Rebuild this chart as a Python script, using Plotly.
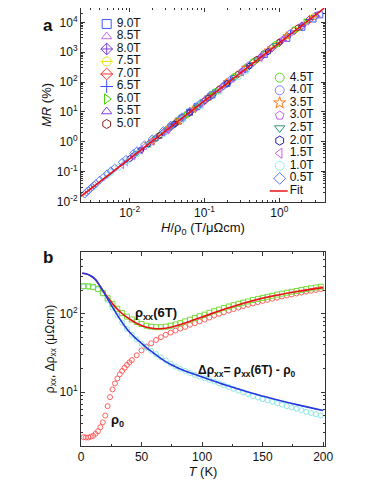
import plotly.graph_objects as go

# ---------------- panel a : MR vs H/rho0 (Kohler plot) ----------------
x90 = [0.0447, 0.0501, 0.0631, 0.0794, 0.126, 0.200, 0.355, 0.631, 1.26, 2.00, 2.82, 3.47]
y90 = [4.91, 6.14, 9.59, 15.0, 36.6, 89.5, 274, 836, 2900, 6800, 12900, 17800]
x85 = [0.0447, 0.0562, 0.0708, 0.0891, 0.141, 0.224, 0.355, 0.631, 1.12, 2.24, 3.16]
y85 = [4.91, 7.67, 12.0, 18.7, 45.8, 112, 274, 836, 2553, 9300, 17000]
x80 = [0.0398, 0.0501, 0.0631, 0.0794, 0.126, 0.200, 0.316, 0.562, 1.00, 2.00, 3.02]
y80 = [3.93, 6.14, 9.59, 15.0, 36.6, 89.5, 219, 680, 2080, 7600, 16200]
x75 = [0.0398, 0.0447, 0.0562, 0.0708, 0.112, 0.178, 0.282, 0.501, 0.891, 1.78, 2.82]
y75 = [3.93, 4.91, 7.67, 12.0, 29.3, 71.6, 180, 556, 1700, 6420, 15200]
x70 = [0.0355, 0.0398, 0.0501, 0.0631, 0.100, 0.158, 0.251, 0.447, 0.794, 1.58, 2.51]
y70 = [3.14, 3.93, 6.14, 9.59, 23.4, 57.3, 144, 449, 1370, 5190, 12300]
x65 = [0.0355, 0.0398, 0.0501, 0.0631, 0.0891, 0.141, 0.224, 0.398, 0.708, 1.41, 2.51]
y65 = [3.14, 3.93, 6.14, 9.59, 18.7, 45.8, 116, 359, 1108, 4190, 12400]
x60 = [0.0316, 0.0355, 0.0447, 0.0562, 0.0794, 0.126, 0.200, 0.355, 0.631, 1.26, 2.24]
y60 = [2.51, 3.14, 4.91, 7.67, 15.0, 36.6, 93.1, 290, 895, 3380, 10100]
x55 = [0.0282, 0.0316, 0.0398, 0.0501, 0.0708, 0.112, 0.178, 0.316, 0.562, 1.12, 2.00]
y55 = [2.01, 2.51, 3.93, 6.14, 12.0, 29.3, 74.5, 232, 715, 2730, 8190]
x50 = [0.0251, 0.0282, 0.0355, 0.0447, 0.0631, 0.100, 0.158, 0.282, 0.501, 1.00, 1.78]
y50 = [1.61, 2.01, 3.14, 4.91, 9.59, 23.4, 59.0, 186, 578, 2205, 6610]
x45 = [0.0224, 0.0251, 0.0316, 0.0398, 0.0562, 0.0891, 0.141, 0.251, 0.447, 0.891, 1.58]
y45 = [1.29, 1.61, 2.51, 3.93, 7.67, 18.7, 48.1, 154, 479, 1830, 5590]
x40 = [0.0200, 0.0224, 0.0282, 0.0355, 0.0501, 0.0794, 0.126, 0.224, 0.398, 0.794, 1.41]
y40 = [1.03, 1.29, 2.01, 3.14, 6.14, 15.0, 38.4, 123, 376, 1437, 4390]
x35 = [0.0178, 0.0200, 0.0251, 0.0316, 0.0447, 0.0708, 0.112, 0.200, 0.355, 0.708, 1.26]
y35 = [0.822, 1.03, 1.61, 2.51, 4.91, 12.0, 30.8, 98.5, 301, 1150, 3510]
x30 = [0.0158, 0.0178, 0.0224, 0.0282, 0.0398, 0.0631, 0.100, 0.178, 0.316, 0.631, 1.12]
y30 = [0.658, 0.822, 1.29, 2.01, 3.93, 9.59, 24.6, 77.3, 237, 903, 2760]
x25 = [0.0126, 0.0141, 0.0178, 0.0224, 0.0316, 0.0501, 0.0794, 0.141, 0.251, 0.501, 0.891]
y25 = [0.421, 0.526, 0.822, 1.29, 2.51, 6.14, 15.0, 48.1, 147, 562, 1715]
x20 = [0.0100, 0.0112, 0.0141, 0.0178, 0.0251, 0.0398, 0.0631, 0.112, 0.200, 0.398, 0.708]
y20 = [0.269, 0.337, 0.526, 0.822, 1.61, 3.93, 9.59, 29.3, 89.5, 342, 1045]
x15 = [0.00794, 0.00891, 0.0112, 0.0141, 0.0200, 0.0316, 0.0501, 0.0891, 0.158, 0.316, 0.562]
y15 = [0.163, 0.204, 0.320, 0.500, 0.98, 2.38, 5.83, 17.8, 54.4, 208, 635]
x10 = [0.00501, 0.00562, 0.00708, 0.00891, 0.0126, 0.0178, 0.0282, 0.0501, 0.0891, 0.158, 0.282, 0.355]
y10 = [0.0740, 0.0925, 0.138, 0.215, 0.400, 0.781, 1.81, 5.53, 15.9, 48.7, 149, 233]
x05 = [0.00251, 0.00265, 0.00282, 0.00300, 0.00316, 0.00336, 0.00355, 0.00398, 0.00447, 0.00501,
       0.00562, 0.00631, 0.00794, 0.00891, 0.0112, 0.0126, 0.0158, 0.0200, 0.0282, 0.0355,
       0.0501, 0.0631, 0.0891, 0.112, 0.178]
y05 = [0.0175, 0.0205, 0.0231, 0.0274, 0.0302, 0.0347, 0.0397, 0.0519, 0.0649, 0.0846,
       0.106, 0.132, 0.206, 0.258, 0.404, 0.505, 0.790, 1.24, 2.37, 3.61,
       6.88, 10.5, 20.2, 30.8, 71.6]

fit_x = [0.00224, 3.98]
fit_y = [0.0148, 29800]

# label, x, y, symbols, colour
series_a = [
    ('9.0T', x90, y90, ['square-open'], '#3c5cff'),
    ('8.5T', x85, y85, ['triangle-up-open'], '#c86af0'),
    ('8.0T', x80, y80, ['diamond-cross-open'], '#7a3fd6'),
    ('7.5T', x75, y75, ['circle-open', 'line-ew-open'], '#e6e61a'),
    ('7.0T', x70, y70, ['diamond-open', 'line-ew-open'], '#ff3030'),
    ('6.5T', x65, y65, ['cross-thin-open'], '#3c4cff'),
    ('6.0T', x60, y60, ['triangle-right-open'], '#44d400'),
    ('5.5T', x55, y55, ['triangle-up-open'], '#8a3ce0'),
    ('5.0T', x50, y50, ['hexagon-open'], '#8b1e1e'),
    ('4.5T', x45, y45, ['circle-open'], '#55dd22'),
    ('4.0T', x40, y40, ['circle-open'], '#8080ff'),
    ('3.5T', x35, y35, ['star-open'], '#ff7a1a'),
    ('3.0T', x30, y30, ['pentagon-open'], '#c060f0'),
    ('2.5T', x25, y25, ['triangle-down-open'], '#2e9a70'),
    ('2.0T', x20, y20, ['hexagon-open'], '#2020a0'),
    ('1.5T', x15, y15, ['triangle-left-open'], '#d060e8'),
    ('1.0T', x10, y10, ['circle-open'], '#90f0f0'),
    ('0.5T', x05, y05, ['diamond-open'], '#5878ff'),
]
fit_color = '#e8121a'

# ---------------- panel b : rho vs T ----------------
t_rho0 = [2, 4, 6, 8, 10, 12, 14, 16, 18, 20, 22, 24, 26, 28, 30, 32, 34, 36, 38, 40,
          42, 46, 50, 54, 58, 62, 66, 70, 74, 78, 82, 86, 90, 94, 98, 102, 106, 110, 114, 118,
          122, 126, 130, 134, 138, 142, 146, 150, 154, 158, 162, 166, 170, 174, 178, 182, 186, 190, 194, 198]
rho0 = [2.65, 2.62, 2.62, 2.68, 2.75, 2.92, 3.15, 3.55, 4.1, 5.0, 6.6, 8.6, 10.8, 12.9, 14.9, 16.8, 18.6, 20.4, 22.2, 24.0,
        25.6, 29.5, 34.0, 38.0, 42.0, 46.3, 50.3, 54.0, 57.5, 61.0, 64.5, 68.0, 72.5, 76.0, 80.0, 84.5, 89.5, 95.0, 100, 105,
        110, 115, 120, 125.5, 130.5, 136, 141, 146, 151, 156, 161, 166.5, 171.5, 177, 182, 187, 192, 197, 202, 207]

t_data = [2, 6, 10, 14, 18, 22, 26, 30, 34, 38, 42, 46, 50, 54, 58, 62, 66, 70, 74, 78,
          82, 86, 90, 94, 98, 102, 106, 110, 114, 118, 122, 126, 130, 134, 138, 142, 146, 150, 154, 158,
          162, 166, 170, 174, 178, 182, 186, 190, 194, 198]
rho_6t = [226, 225, 221, 208, 185, 158, 134, 116, 102, 92, 84.5, 78.5, 74, 70.5, 68.5, 67.5, 67.5, 68.5, 70.5, 73,
          76, 80, 84, 88.5, 93, 97.5, 103, 108, 113, 118.5, 124, 129, 134, 139, 144, 150, 155, 160, 165, 170,
          176, 181, 186, 191, 196, 202, 207, 212, 217, 222]
d_rho = [222, 221, 217, 205, 181, 150, 120, 95, 77, 64, 54, 47, 41.5, 37, 33.5, 30.5, 27.8, 25.3, 23.0, 21.2,
         19.8, 18.6, 17.5, 16.6, 15.8, 15.0, 14.3, 13.6, 12.9, 12.2, 11.6, 11.0, 10.4, 9.9, 9.4, 8.9, 8.5, 8.1, 7.8, 7.5,
         7.2, 6.9, 6.6, 6.35, 6.1, 5.85, 5.6, 5.4, 5.2, 5.0]

t_fit = [1, 4, 8, 12, 16, 20, 24, 28, 32, 36, 40, 45, 50, 55, 60, 65, 70, 75, 80, 90, 100, 120, 140, 160, 180, 200]
fit_6t = [330, 325, 305, 272, 222, 180, 148, 124, 107, 95, 86, 77, 71, 67, 65, 64.5, 65.5, 68, 71.5, 80.5, 91, 117, 145, 171, 194, 216]
fit_drho = [330, 325, 307, 275, 222, 175, 138, 108, 86, 70, 58.5, 49, 42, 36, 31.5, 27.5, 24.5, 22.2, 20.3, 17.6, 15.6, 12.2, 9.8, 8.1, 6.8, 5.8]

fig = go.Figure()

# panel a data, fit on top
for label, xs, ys, syms, col in series_a:
    for s in syms:
        fig.add_trace(go.Scatter(x=xs, y=ys, mode='markers', xaxis='x', yaxis='y',
                                 marker=dict(symbol=s, size=6, color=col, line=dict(width=1, color=col))))
fig.add_trace(go.Scatter(x=fit_x, y=fit_y, mode='lines', xaxis='x', yaxis='y',
                         line=dict(color=fit_color, width=1.6)))

# hand-made legends (two columns inside panel a)
left_items = series_a[:9]
right_items = series_a[9:]
for axis_x, axis_y, items in [('x3', 'y3', left_items), ('x4', 'y4', right_items)]:
    for i, (label, xs, ys, syms, col) in enumerate(items):
        for s in syms:
            fig.add_trace(go.Scatter(x=[1], y=[i], mode='markers', xaxis=axis_x, yaxis=axis_y,
                                     marker=dict(symbol=s, size=9, color=col, line=dict(width=1, color=col))))
    labels = [it[0] for it in items]
    if axis_x == 'x4':
        labels = labels + ['Fit']
        fig.add_trace(go.Scatter(x=[-0.1, 1.8], y=[len(items), len(items)], mode='lines',
                                 xaxis=axis_x, yaxis=axis_y, line=dict(color=fit_color, width=1.6)))
    fig.add_trace(go.Scatter(x=[2.0] * len(labels), y=list(range(len(labels))), mode='text',
                             text=labels, textposition='middle right', xaxis=axis_x, yaxis=axis_y,
                             textfont=dict(size=12, color='#111')))

# panel b
fig.add_trace(go.Scatter(x=t_rho0, y=rho0, mode='markers', xaxis='x2', yaxis='y2',
                         marker=dict(symbol='circle-open', size=5, color='#ff6060', line=dict(width=1))))
fig.add_trace(go.Scatter(x=t_data, y=d_rho, mode='markers', xaxis='x2', yaxis='y2',
                         marker=dict(symbol='circle-open', size=5, color='#8ee6e6', line=dict(width=1))))
fig.add_trace(go.Scatter(x=t_data, y=rho_6t, mode='markers', xaxis='x2', yaxis='y2',
                         marker=dict(symbol='square-open', size=5, color='#7ada3a', line=dict(width=1))))
fig.add_trace(go.Scatter(x=t_fit, y=fit_6t, mode='lines', line_shape='spline', xaxis='x2', yaxis='y2',
                         line=dict(color='#e8121a', width=1.6)))
fig.add_trace(go.Scatter(x=t_fit, y=fit_drho, mode='lines', line_shape='spline', xaxis='x2', yaxis='y2',
                         line=dict(color='#2438e0', width=1.6)))


def sup(p):
    return '10<sup>%d</sup>' % p


def minor_log(lo, hi):
    return [m * 10.0 ** k for k in range(lo, hi) for m in range(2, 10)]


frame = dict(showline=True, linecolor='#333', linewidth=1, mirror='ticks', ticks='inside',
             ticklen=4, tickcolor='#333', showgrid=False, zeroline=False,
             tickfont=dict(size=12, color='#111'))
minor = dict(ticks='inside', ticklen=2, tickcolor='#333', showgrid=False)
hidden = dict(visible=False, showgrid=False, zeroline=False, fixedrange=True)

# the page body adds an 8px offset, so the figure is 8px smaller than the window
fig.update_layout(
    width=366, height=476, margin=dict(l=73, r=49, t=0, b=38),
    paper_bgcolor='white', plot_bgcolor='rgba(0,0,0,0)', showlegend=False,
    font=dict(family='Liberation Sans, Arial, sans-serif', size=12, color='#111'),
    xaxis=dict(frame, type='log', range=[-2.65, 0.61], domain=[0, 1], anchor='y',
               tickmode='array', tickvals=[0.01, 0.1, 1], ticktext=[sup(-2), sup(-1), sup(0)],
               minor=dict(minor, tickmode='array', tickvals=minor_log(-3, 1)),
               title=dict(text='<i>H</i>/ρ<sub>0</sub> (T/μΩcm)', font=dict(size=13), standoff=2)),
    yaxis=dict(frame, type='log', range=[-2.02, 4.48], domain=[0.5571, 1], anchor='x',
               tickmode='array', tickvals=[1e-2, 1e-1, 1, 10, 100, 1e3, 1e4],
               ticktext=[sup(p) for p in range(-2, 5)],
               minor=dict(minor, tickmode='array', tickvals=minor_log(-2, 5)),
               title=dict(text='<i>MR</i> (%)', font=dict(size=13), standoff=2)),
    xaxis2=dict(frame, range=[0, 201.5], domain=[0, 1], anchor='y2', dtick=50,
                minor=dict(minor, dtick=25),
                title=dict(text='<i>T</i> (K)', font=dict(size=13), standoff=2)),
    yaxis2=dict(frame, type='log', range=[0.31, 2.79], domain=[0, 0.4429], anchor='x2',
                tickmode='array', tickvals=[10, 100], ticktext=[sup(1), sup(2)],
                minor=dict(minor, tickmode='array', tickvals=minor_log(0, 3)),
                title=dict(text='ρ<sub>xx</sub>, Δρ<sub>xx</sub> (μΩcm)', font=dict(size=12), standoff=2)),
    xaxis3=dict(hidden, domain=[0.0643, 0.3102], range=[0, 6], anchor='y3'),
    yaxis3=dict(hidden, domain=[0.7209, 0.9778], range=[8.5, -0.5], anchor='x3'),
    xaxis4=dict(hidden, domain=[0.7734, 0.9984], range=[0, 5.5], anchor='y4'),
    yaxis4=dict(hidden, domain=[0.5678, 0.8553], range=[9.5, -0.5], anchor='x4'),
)

fig.add_annotation(text='<b>a</b>', xref='paper', yref='paper', x=-0.165, y=0.9863,
                   showarrow=False, font=dict(size=17, color='#111'))
fig.add_annotation(text='<b>b</b>', xref='paper', yref='paper', x=-0.165, y=0.4315,
                   showarrow=False, font=dict(size=17, color='#111'))
fig.add_annotation(text='<b>ρ<sub>xx</sub>(6T)</b>', xref='x2', yref='y2', x=42.6, y=2.01,
                   xanchor='left', showarrow=False, font=dict(size=13, color='#111'))
fig.add_annotation(text='<b>Δρ<sub>xx</sub>= ρ<sub>xx</sub>(6T) - ρ<sub>0</sub></b>', xref='x2', yref='y2',
                   x=95, y=1.268, xanchor='left', showarrow=False, font=dict(size=12, color='#111'))
fig.add_annotation(text='<b>ρ<sub>0</sub></b>', xref='x2', yref='y2', x=30.3, y=0.642,
                   showarrow=False, font=dict(size=13, color='#111'))

fig.write_html("out.html")
